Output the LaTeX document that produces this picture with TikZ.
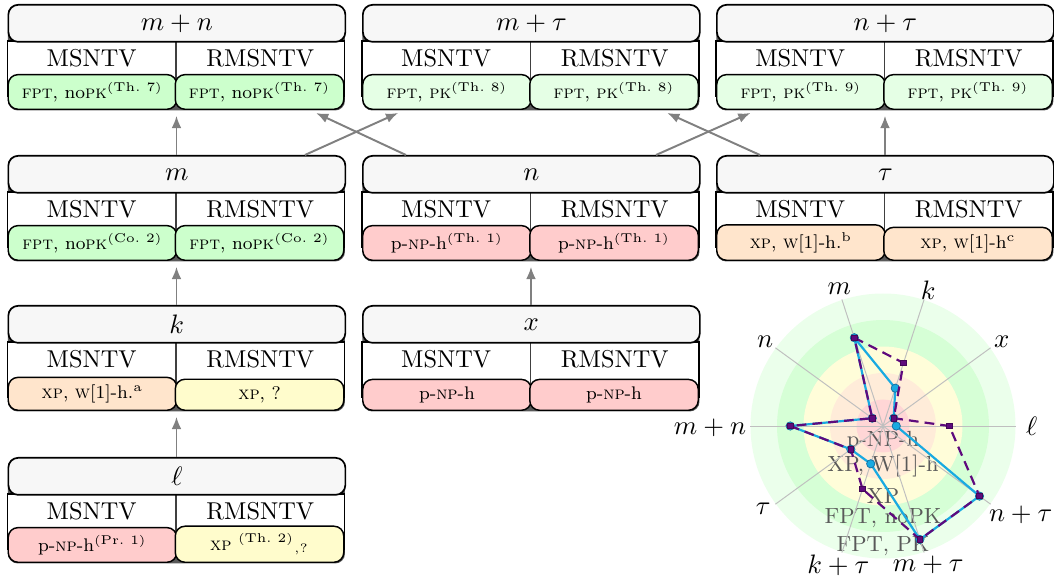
\documentclass[tikz,border=0pt]{standalone}
\usepackage{amsmath}
\usepackage{fontspec}
\usetikzlibrary{calc,arrows.meta}
\def\pxu{0.4105pt}
\definecolor{blueline}{RGB}{25,170,225}
\definecolor{bluedark}{RGB}{20,110,160}
\definecolor{purpleline}{RGB}{95,10,125}
\tikzset{
 outer/.style={draw=none, fill=black!65, rounded corners=4pt, inner sep=0pt, minimum width=337*\pxu, minimum height=106*\pxu},
 hdr/.style={draw=black, line width=0.7pt, fill=black!3, rounded corners=4pt, inner sep=0pt, minimum width=337*\pxu, minimum height=37*\pxu, font=\fontsize{11}{13}\selectfont},
 sublbl/.style={inner sep=0pt, font=\fontsize{10}{12}\selectfont},
 res/.style={draw=black, line width=0.6pt, rounded corners=4pt, inner xsep=0pt, inner ysep=3pt, minimum width=168.5*\pxu, font=\fontsize{7.5}{9}\selectfont},
 arr/.style={draw=gray, line width=0.8pt, -{Latex[length=5pt,width=4pt]}, shorten >=2pt},
 ringlbl/.style={inner sep=0pt, text=black!65, font=\fontsize{9}{10}\selectfont},
 axlbl/.style={inner sep=0pt, font=\fontsize{11}{13}\selectfont},
 axisline/.style={draw=gray!50, line width=0.4pt},
 bpath/.style={draw=blueline, line width=0.9pt, line join=round},
 ppath/.style={draw=purpleline, line width=0.9pt, dash pattern=on 4pt off 2.5pt},
}
\newcommand{\cblock}[8]{%
 \node[outer, anchor=north west] (#1) at (#2,#3) {};
 \filldraw[fill=white, draw=black, line width=0.5pt] (#2,#3+37) rectangle (#2+337,#3+92);
 \draw[black!75, line width=0.6pt] (#2+168.5,#3+37) -- (#2+168.5,#3+85);
 \node[hdr, anchor=north west] (#1-h) at (#2,#3) {#4};
 \node[sublbl] (#1-a) at (#2+84.25,#3+54) {MSNTV};
 \node[sublbl] (#1-b) at (#2+252.75,#3+54) {RMSNTV};
 \node[res, fill=#6, anchor=south west] (#1-c) at (#2,#3+106) {#5};
 \node[res, fill=#8, anchor=south east] (#1-d) at (#2+337,#3+106) {#7};
}
\newcommand{\fptnopk}[1]{\textsc{fpt}, no\textsc{pk}$^{(\text{#1})}$}
\newcommand{\fptpk}[1]{\textsc{fpt}, \textsc{pk}$^{(\text{#1})}$}
\newcommand{\pnph}{p-\textsc{np}-h}
\begin{document}
\begin{tikzpicture}[x=0.4105pt, y=-0.4105pt]
\useasboundingbox (0,0) rectangle (1054,581);

\cblock{mn}{7.5}{4}{$m+n$}{\fptnopk{Th.~7}}{green!20}{\fptnopk{Th.~7}}{green!20}
\cblock{mt}{362}{4}{$m+\tau$}{\fptpk{Th.~8}}{green!10}{\fptpk{Th.~8}}{green!10}
\cblock{nt}{716}{4}{$n+\tau$}{\fptpk{Th.~9}}{green!10}{\fptpk{Th.~9}}{green!10}
\cblock{m}{7.5}{155}{$m$}{\fptnopk{Co.~2}}{green!20}{\fptnopk{Co.~2}}{green!20}
\cblock{n}{362}{155}{$n$}{\pnph$^{(\text{Th.~1})}$}{red!20}{\pnph$^{(\text{Th.~1})}$}{red!20}
\cblock{t}{716}{155}{$\tau$}{\textsc{xp}, \textsc{w}[1]-h.$^{\text{b}}$}{orange!20}{\textsc{xp}, \textsc{w}[1]-h$^{\text{c}}$}{orange!20}
\cblock{k}{7.5}{305}{$k$}{\textsc{xp}, \textsc{w}[1]-h.$^{\text{a}}$}{orange!20}{\textsc{xp}, ?}{yellow!20}
\cblock{x}{362}{305}{$x$}{\pnph}{red!20}{\pnph}{red!20}
\cblock{l}{7.5}{457}{$\ell$}{\pnph$^{(\text{Pr.~1})}$}{red!20}{\textsc{xp} $^{(\text{Th.~2})}$$_{,?}$}{yellow!20}

\draw[arr] (l.north) -- (k.south);
\draw[arr] (k.north) -- (m.south);
\draw[arr] (x.north) -- (n.south);
\draw[arr] (m.north) -- (mn.south);
\draw[arr] (t.north) -- (nt.south);
\draw[arr] ($(m.north west)!0.88!(m.north east)$) -- ($(mt.south west)!0.12!(mt.south east)$);
\draw[arr] ($(n.north west)!0.13!(n.north east)$) -- ($(mn.south west)!0.90!(mn.south east)$);
\draw[arr] ($(n.north west)!0.87!(n.north east)$) -- ($(nt.south west)!0.115!(nt.south east)$);
\draw[arr] ($(t.north west)!0.13!(t.north east)$) -- ($(mt.south west)!0.89!(mt.south east)$);

% radar chart
\coordinate (C) at (883,426);
\begin{scope}[shift={(C)}]
 \fill[green!8] (0,0) circle[radius=54.39pt];
 \fill[green!16] (0,0) circle[radius=43.51pt];
 \fill[yellow!15] (0,0) circle[radius=32.63pt];
 \fill[orange!15] (0,0) circle[radius=21.76pt];
 \fill[red!16] (0,0) circle[radius=10.88pt];
 \node[ringlbl] (r1) at (0pt,-6.2pt) {p-NP-h};
 \node[ringlbl] (r2) at (0pt,-16.4pt) {XP, W[1]-h};
 \node[ringlbl] (r3) at (0pt,-28.7pt) {XP};
 \node[ringlbl] (r4) at (0pt,-37.8pt) {FPT, noPK};
 \node[ringlbl] (r5) at (0pt,-49.3pt) {FPT, PK};
 \foreach \a in {0,36,...,324} \draw[axisline] (0,0) -- (\a:54.6pt);
 % MSNTV
 \coordinate (b-l) at (0:5.44pt);
 \coordinate (b-x) at (36:5.44pt);
 \coordinate (b-k) at (72:16.32pt);
 \coordinate (b-m) at (108:38.09pt);
 \coordinate (b-n) at (144:5.44pt);
 \coordinate (b-mn) at (180:38.09pt);
 \coordinate (b-t) at (216:16.32pt);
 \coordinate (b-kt) at (252:16.32pt);
 \coordinate (b-mt) at (288:48.97pt);
 \coordinate (b-nt) at (324:48.97pt);
 % RMSNTV
 \coordinate (p-l) at (0:27.21pt);
 \coordinate (p-x) at (36:5.44pt);
 \coordinate (p-k) at (72:27.21pt);
 \coordinate (p-m) at (108:38.09pt);
 \coordinate (p-n) at (144:5.44pt);
 \coordinate (p-mn) at (180:38.09pt);
 \coordinate (p-t) at (216:16.32pt);
 \coordinate (p-kt) at (252:27.21pt);
 \coordinate (p-mt) at (288:48.97pt);
 \coordinate (p-nt) at (324:48.97pt);
 \draw[bpath] (b-m) -- (b-k) -- (b-x) -- (b-l) -- (b-nt) -- (b-mt) -- (b-kt) -- (b-t) -- (b-mn) -- (b-n) -- cycle;
 \foreach \c in {m,k,x,l,nt,mt,kt,t,mn,n}
   \filldraw[fill=blueline, draw=bluedark, line width=0.3pt] (b-\c) circle[radius=1.7pt];
 \draw[ppath] (p-m) -- (p-k) -- (p-x) -- (p-l) -- (p-nt) -- (p-mt) -- (p-kt) -- (p-t) -- (p-mn) -- (p-n) -- cycle;
 \foreach \c in {m,k,x,l,nt,mt,kt,t,mn,n}
   \filldraw[fill=purpleline, draw=purpleline!70!black, line width=0.3pt] ([shift={(-1.1pt,-1.1pt)}]p-\c) rectangle ([shift={(1.1pt,1.1pt)}]p-\c);
\end{scope}
\node[axlbl] (al-m) at (839.3,288.3) {$m$};
\node[axlbl] (al-k) at (928.3,290) {$k$};
\node[axlbl] (al-x) at (1001.7,341.7) {$x$};
\node[axlbl] (al-n) at (765,341.7) {$n$};
\node[axlbl] (al-l) at (1031.7,426.7) {$\ell$};
\node[axlbl] (al-mn) at (710,428) {$m+n$};
\node[axlbl] (al-t) at (763.3,508.3) {$\tau$};
\node[axlbl] (al-nt) at (1020.7,515) {$n+\tau$};
\node[axlbl] (al-kt) at (838.3,565) {$k+\tau$};
\node[axlbl] (al-mt) at (928.3,565) {$m+\tau$};
\end{tikzpicture}
\end{document}
